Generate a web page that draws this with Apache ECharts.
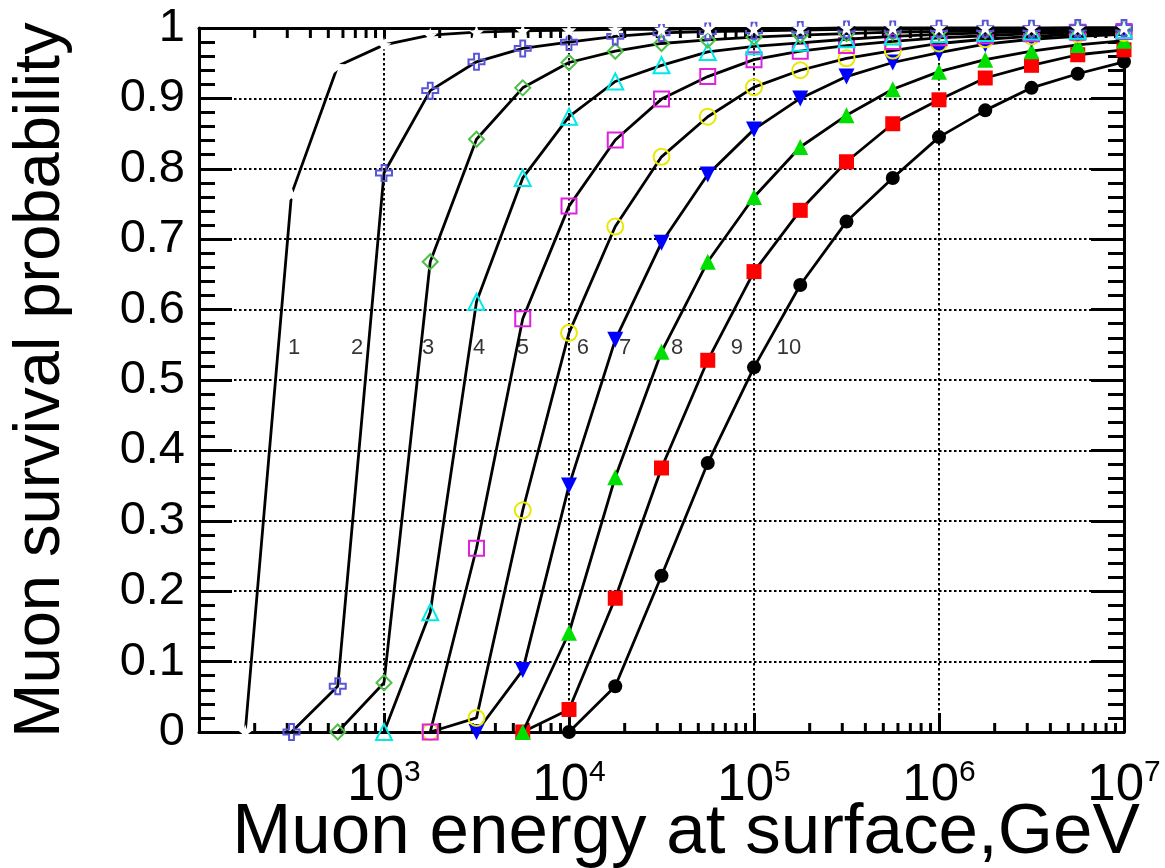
<!DOCTYPE html>
<html>
<head>
<meta charset="utf-8">
<script src="https://cdn.jsdelivr.net/npm/echarts@6/dist/echarts.min.js"></script>
<style>
  html, body { margin: 0; padding: 0; background: #ffffff; }
  #chart { width: 1165px; height: 868px; }
</style>
</head>
<body>
<div id="chart"></div>
<script>
// Muon energy at the surface (GeV), quarter-decade steps
const energies = [100, 177.8, 316.2, 562.3, 1000, 1778, 3162, 5623, 10000, 17783, 31623,
  56234, 100000, 177828, 316228, 562341, 1000000, 1778279, 3162278, 5623413, 10000000];

// Survival probability for the ten depth curves (null = not computed at that energy)
const survival1 = [null, 0, 0.764, 0.946, 0.976, 0.990, 0.994, 0.996, 0.997, 0.998, 0.998, 0.999, 0.999, 0.999, 1, 1, 1, 1, 1, 1, 1];
const survival2 = [null, null, 0, 0.065, 0.794, 0.911, 0.952, 0.971, 0.980, 0.988, 0.993, 0.995, 0.996, 0.997, 0.998, 0.998, 0.999, 0.999, 0.999, 1, 1];
const survival3 = [null, null, null, 0, 0.070, 0.668, 0.842, 0.915, 0.951, 0.967, 0.978, 0.983, 0.987, 0.990, 0.992, 0.994, 0.995, 0.996, 0.997, 0.998, 0.998];
const survival4 = [null, null, null, null, 0, 0.170, 0.611, 0.787, 0.874, 0.924, 0.947, 0.966, 0.974, 0.979, 0.984, 0.988, 0.991, 0.993, 0.995, 0.996, 0.997];
const survival5 = [null, null, null, null, null, 0, 0.261, 0.587, 0.747, 0.841, 0.899, 0.931, 0.955, 0.967, 0.975, 0.981, 0.986, 0.989, 0.992, 0.994, 0.995];
const survival6 = [null, null, null, null, null, 0, 0.020, 0.315, 0.567, 0.718, 0.817, 0.874, 0.916, 0.940, 0.957, 0.968, 0.978, 0.984, 0.988, 0.991, 0.993];
const survival7 = [null, null, null, null, null, null, 0, 0.088, 0.350, 0.557, 0.695, 0.792, 0.856, 0.900, 0.931, 0.951, 0.965, 0.977, 0.984, 0.988, 0.991];
const survival8 = [null, null, null, null, null, null, null, 0, 0.141, 0.362, 0.540, 0.668, 0.760, 0.831, 0.876, 0.913, 0.938, 0.955, 0.967, 0.976, 0.982];
const survival9 = [null, null, null, null, null, null, null, 0, 0.032, 0.190, 0.375, 0.528, 0.654, 0.741, 0.810, 0.864, 0.898, 0.929, 0.947, 0.962, 0.969];
const survival10 = [null, null, null, null, null, null, null, null, 0, 0.065, 0.222, 0.382, 0.518, 0.635, 0.725, 0.787, 0.845, 0.883, 0.915, 0.935, 0.952];

// Curve tags and the energy / probability where each tag sits
const curveTags = ['1', '2', '3', '4', '5', '6', '7', '8', '9', '10'];
const tagEnergy = [327, 715, 1730, 3266, 5640, 11890, 20090, 38370, 80900, 154500];
const tagProbability = [0.545, 0.545, 0.545, 0.545, 0.545, 0.545, 0.545, 0.545, 0.545, 0.545];

// Axis tick values
const yTicks = [0, 0.1, 0.2, 0.3, 0.4, 0.5, 0.6, 0.7, 0.8, 0.9, 1];
const xDecades = [100, 1000, 10000, 100000, 1000000, 10000000];

const allSurvival = [survival1, survival2, survival3, survival4, survival5,
  survival6, survival7, survival8, survival9, survival10];

// Marker styling per curve
const FONT = '"Liberation Sans", Arial, Helvetica, sans-serif';
const starPath = 'path://M0,-10 L2.35,-3.24 L9.51,-3.09 L3.8,1.24 L5.88,8.09 L0,4 L-5.88,8.09 L-3.8,1.24 L-9.51,-3.09 L-2.35,-3.24 Z';
const crossPath = 'path://M-1.2,-4 L1.2,-4 L1.2,-1.2 L4,-1.2 L4,1.2 L1.2,1.2 L1.2,4 L-1.2,4 L-1.2,1.2 L-4,1.2 L-4,-1.2 L-1.2,-1.2 Z';
const markerStyles = [
  { color: '#ffffff', symbol: starPath, filled: true, size: 15, rotate: 0 },
  { color: '#5954d9', symbol: crossPath, filled: false, size: 16, rotate: 0 },
  { color: '#4fbf4a', symbol: 'diamond', filled: false, size: 15, rotate: 0 },
  { color: '#00e8e8', symbol: 'triangle', filled: false, size: 16, rotate: 0 },
  { color: '#e020e0', symbol: 'rect', filled: false, size: 15, rotate: 0 },
  { color: '#e8e800', symbol: 'circle', filled: false, size: 16, rotate: 0 },
  { color: '#0000ff', symbol: 'triangle', filled: true, size: 16, rotate: 180 },
  { color: '#00e000', symbol: 'triangle', filled: true, size: 16, rotate: 0 },
  { color: '#ff0000', symbol: 'rect', filled: true, size: 15, rotate: 0 },
  { color: '#000000', symbol: 'circle', filled: true, size: 14, rotate: 0 }
];

function pairs(values) {
  const out = [];
  values.forEach(function (v, i) { if (v !== null) out.push([energies[i], v]); });
  return out;
}

const curveSeries = allSurvival.map(function (vals, i) {
  const m = markerStyles[i];
  return {
    name: 'curve ' + curveTags[i],
    type: 'line',
    xAxisIndex: 0,
    yAxisIndex: 0,
    data: pairs(vals),
    symbol: m.symbol,
    symbolSize: m.size,
    symbolRotate: m.rotate,
    showAllSymbol: true,
    clip: false,
    z: 30 - i,
    lineStyle: { color: '#000000', width: 2.8 },
    itemStyle: m.filled
      ? { color: m.color, borderWidth: 0 }
      : { color: 'rgba(0,0,0,0)', borderColor: m.color, borderWidth: 2 },
    emphasis: { disabled: true },
    silent: true
  };
});

// Log minor ticks (2..9 x 10^n) drawn along the bottom and top frame edges
const minorTickValues = [];
for (let d = 0; d < xDecades.length - 1; d++) {
  for (let k = 2; k <= 9; k++) minorTickValues.push(k * xDecades[d]);
}

function minorTickSeries(edgeValue, length) {
  return {
    type: 'custom',
    coordinateSystem: 'cartesian2d',
    xAxisIndex: 0,
    yAxisIndex: 0,
    data: minorTickValues.map(function (v) { return [v, edgeValue]; }),
    encode: { x: 0, y: 1 },
    clip: false,
    silent: true,
    z: 10,
    renderItem: function (params, api) {
      const p = api.coord([api.value(0), api.value(1)]);
      return {
        type: 'line',
        shape: { x1: p[0], y1: p[1], x2: p[0], y2: p[1] + length },
        style: { stroke: '#000000', lineWidth: 3 }
      };
    }
  };
}

const tagSeries = {
  type: 'scatter',
  xAxisIndex: 0,
  yAxisIndex: 0,
  data: curveTags.map(function (t, i) { return { name: t, value: [tagEnergy[i], tagProbability[i]] }; }),
  symbolSize: 1,
  itemStyle: { color: 'rgba(0,0,0,0)' },
  silent: true,
  z: 40,
  label: {
    show: true,
    position: 'inside',
    formatter: function (p) { return p.name; },
    color: '#000000',
    textBorderWidth: 0,
    fontFamily: FONT,
    fontSize: 22
  }
};

const dotted = { color: '#000000', width: 2, type: [2.5, 2.5] };

const chart = echarts.init(document.getElementById('chart'), null, { renderer: 'canvas' });
chart.setOption({
  animation: false,
  backgroundColor: '#ffffff',
  grid: { left: 199, right: 41, top: 28, bottom: 136, containLabel: false },
  xAxis: [
    {
      type: 'log',
      logBase: 10,
      min: xDecades[0],
      max: xDecades[xDecades.length - 1],
      position: 'bottom',
      axisLine: { show: true, onZero: false, lineStyle: { color: '#000000', width: 3 } },
      axisTick: { show: true, inside: true, length: 19, lineStyle: { color: '#000000', width: 3 } },
      splitLine: { show: true, lineStyle: dotted },
      axisLabel: {
        show: true,
        margin: 26,
        formatter: function (v) {
          const e = Math.round(Math.log10(v));
          if (e < 3) return '';
          return '{b|10}{e|' + e + '}';
        },
        rich: {
          b: { fontSize: 51, fontFamily: FONT, color: '#000000', lineHeight: 56 },
          e: { fontSize: 30, fontFamily: FONT, color: '#000000', lineHeight: 30, verticalAlign: 'top' }
        }
      }
    },
    {
      type: 'log',
      logBase: 10,
      min: xDecades[0],
      max: xDecades[xDecades.length - 1],
      position: 'top',
      axisLine: { show: true, onZero: false, lineStyle: { color: '#000000', width: 3 } },
      axisTick: { show: true, inside: true, length: 11, lineStyle: { color: '#000000', width: 3 } },
      splitLine: { show: false },
      axisLabel: { show: false }
    }
  ],
  yAxis: [
    {
      type: 'value',
      min: yTicks[0],
      max: yTicks[yTicks.length - 1],
      interval: 0.1,
      position: 'left',
      axisLine: { show: true, onZero: false, lineStyle: { color: '#000000', width: 3 } },
      axisTick: { show: true, inside: true, length: 33, lineStyle: { color: '#000000', width: 3 } },
      minorTick: { show: true, splitNumber: 5, length: 16, lineStyle: { color: '#000000', width: 3 } },
      splitLine: { show: true, lineStyle: dotted },
      axisLabel: {
        show: true,
        margin: 14,
        fontSize: 47,
        fontFamily: FONT,
        color: '#000000',
        padding: [8, 0, 0, 0],
        formatter: function (v) { return String(Math.round(v * 10) / 10); }
      }
    },
    {
      type: 'value',
      min: yTicks[0],
      max: yTicks[yTicks.length - 1],
      interval: 0.1,
      position: 'right',
      axisLine: { show: true, onZero: false, lineStyle: { color: '#000000', width: 3 } },
      axisTick: { show: true, inside: true, length: 33, lineStyle: { color: '#000000', width: 3 } },
      minorTick: { show: true, splitNumber: 5, length: 16, lineStyle: { color: '#000000', width: 3 } },
      splitLine: { show: false },
      axisLabel: { show: false }
    }
  ],
  graphic: [
    {
      type: 'text',
      x: 41,
      y: 380,
      rotation: Math.PI / 2,
      silent: true,
      style: {
        text: 'Muon survival probability',
        font: '65px ' + FONT,
        fill: '#000000',
        align: 'center',
        verticalAlign: 'middle'
      }
    },
    {
      type: 'text',
      x: 686,
      y: 833,
      silent: true,
      style: {
        text: 'Muon energy at surface,GeV',
        font: '71px ' + FONT,
        fill: '#000000',
        align: 'center',
        verticalAlign: 'middle'
      }
    }
  ],
  series: [minorTickSeries(0, -9), minorTickSeries(1, 10)].concat(curveSeries).concat([tagSeries])
});
</script>
</body>
</html>
